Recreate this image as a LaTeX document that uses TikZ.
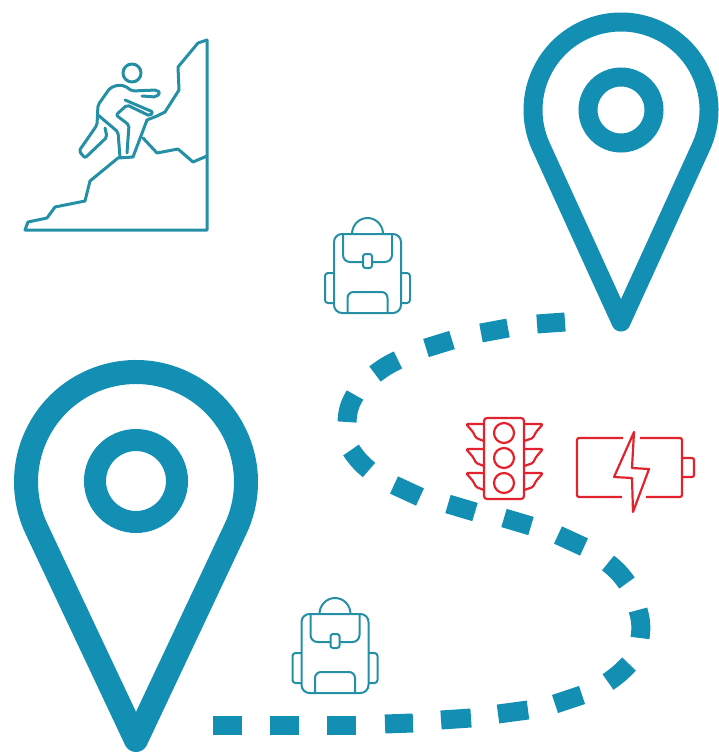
\documentclass[tikz,border=0pt]{standalone}
\usepackage{tikz}
\usetikzlibrary{calc}
\definecolor{route-teal}{RGB}{18,143,178}
\definecolor{icon-teal}{RGB}{36,143,165}
\definecolor{icon-red}{RGB}{226,34,44}

\tikzset{
    roaddash/.style={route-teal, line width=19pt},
    tealicon/.style={icon-teal, line width=3pt, line join=round, line cap=round},
    packicon/.style={icon-teal, line width=2pt, line join=round},
    redicon/.style={icon-red, line width=2.2pt, line join=round},
    backpack/.pic={
        \draw[packicon, rounded corners=8pt] (-33.5,0) rectangle (33.5,79);
        \draw[packicon] (-15.5,0) arc (180:360:15.5 and 16);
        \draw[packicon, rounded corners=7pt] (-24.5,0) -- (-24.5,28) -- (24.5,28) -- (24.5,0);
        \draw[packicon, fill=white, rounded corners=2.5pt] (-4.5,20) rectangle (4.5,34);
        \draw[packicon, rounded corners=3pt] (-33.5,39) -- (-42.5,39) -- (-42.5,69) -- (-33.5,69);
        \draw[packicon, rounded corners=3pt] (33.5,39) -- (42.5,39) -- (42.5,69) -- (33.5,69);
        \draw[packicon, rounded corners=6pt] (-20,79) -- (-20,58) -- (20,58) -- (20,79);
    }
}

\begin{document}
\begin{tikzpicture}[x=1pt,y=-1pt]
    \useasboundingbox (0,0) rectangle (719,752);

    % map pins
    \draw[route-teal, line width=19pt, line join=round] (621,322) -- ($(621,110)+(24.5:88)$) arc (24.5:-204.5:88) -- cycle;
    \draw[route-teal, line width=19pt] (621,110) circle (33);
    \draw[route-teal, line width=24pt, line join=round] (136,740) -- ($(136,482)+(25.2:110)$) arc (25.2:-205.2:110) -- cycle;
    \draw[route-teal, line width=22pt] (136,481) circle (41);

    % road
    \foreach \xa/\ya/\xb/\yb/\k in {
        213/725.5/242/725.5/0, 270/725.5/299/725.5/0, 327/725.5/356/725.5/0,
        385/724/413/723/0, 441/720/471/718/0, 498/714/528/710/0,
        555/704/582/695/0, 608/682/629/664/6, 640/638/638/610/12,
        627/583/608/563/8, 584/547/558/535/0, 531/526/504/518/0,
        475/512/448/504/0, 420/497/394/485/0, 369/470/351/450/-8,
        347/422/355/395/-14, 375/374/398/360/-6, 426/348/452/340/0,
        481/333/508/328/0, 537/324/565/322/0}
        \draw[roaddash] (\xa,\ya) to[bend right=\k] (\xb,\yb);

    % climber
    \draw[tealicon] (207,230) -- (207,40) -- (198,43) -- (178,67) -- (179,90) -- (165,112) -- (157,116) -- (147,120) -- (133,157) -- (118,158) -- (90,181) -- (85,201) -- (55,207) -- (47,218) -- (28,222) -- (25,230) -- cycle;
    \draw[tealicon] (143,138) -- (157,153) -- (178,149) -- (193,162) -- (207,156);
    \draw[tealicon] (132,73) circle (9);
    \draw[tealicon, rounded corners=2pt] (105,128) -- (107,137) -- (85,158) -- (79,151) -- (97,125) -- (98,105) -- (110,88) -- (118,85) -- (125,86) -- (132,91) -- (157,90) -- (160,93) -- (156,97) -- (142,96);
    \draw[tealicon, rounded corners=2pt] (125,100) -- (153,112) -- (150,116) -- (127,105) -- (116,115) -- (129,125) -- (127,153);
    \draw[tealicon, rounded corners=2pt] (98,115) -- (118,132) -- (120,157);

    % backpacks
    \pic at (367.5,234) {backpack};
    \pic at (335,614) {backpack};

    % traffic light
    \draw[redicon, rounded corners=3pt] (484,418) rectangle (524,499);
    \foreach \lighty in {433,458,483}
        \draw[redicon] (504,\lighty) circle (10);
    \foreach \wingy in {0,25,49} {
        \draw[redicon, rounded corners=1.5pt] (484,424+\wingy) -- (466,424+\wingy) -- (473,432+\wingy) -- (476,438+\wingy) -- (484,441+\wingy);
        \draw[redicon, rounded corners=1.5pt] (524,424+\wingy) -- (543,424+\wingy) -- (536,432+\wingy) -- (533,438+\wingy) -- (524,441+\wingy);
    }

    % battery
    \draw[redicon, rounded corners=2pt] (623,438) -- (577,438) -- (577,497) -- (622,497);
    \draw[redicon, rounded corners=2pt] (640,438) -- (682,438) -- (682,497) -- (646,497);
    \draw[redicon, rounded corners=2pt] (682,458) -- (694,458) -- (694,477) -- (682,477);
    \draw[redicon] (634,432) -- (614,477) -- (632,478) -- (633,512) -- (649,469) -- (632,468) -- cycle;
\end{tikzpicture}
\end{document}
